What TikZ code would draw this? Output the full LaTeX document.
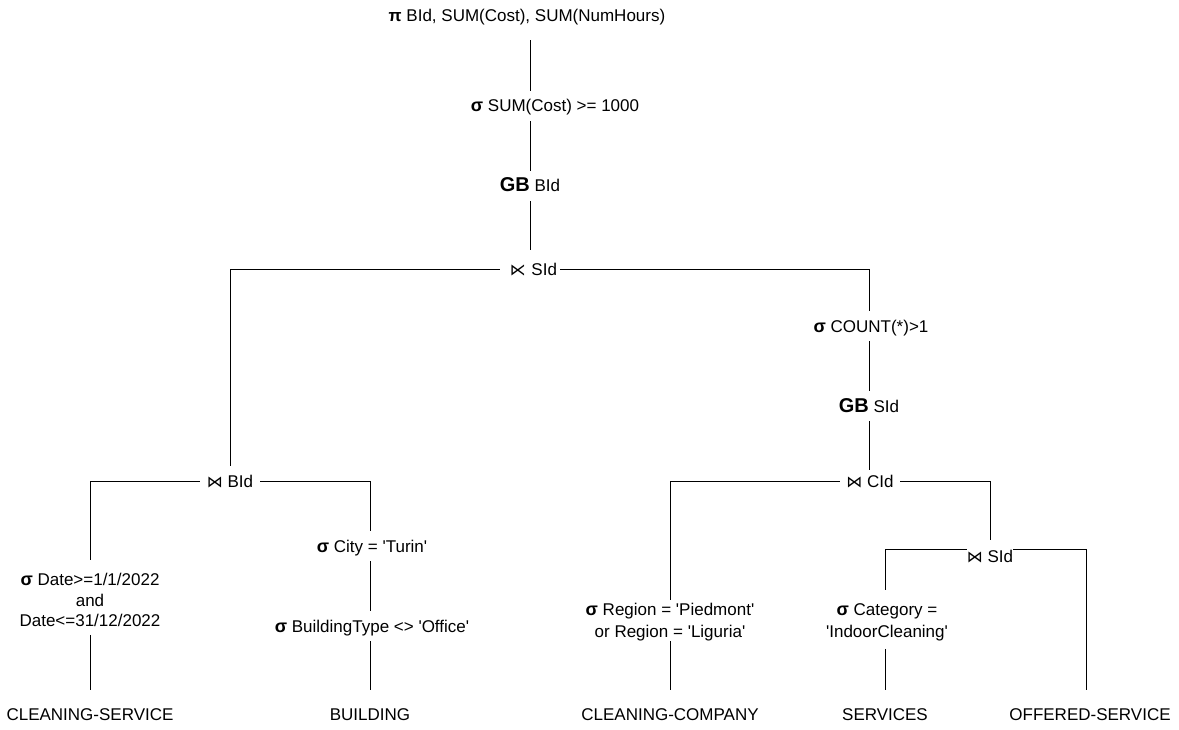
\documentclass[tikz,border=0pt]{standalone}
\usepackage{fontspec}
\setmainfont{Liberation Sans}[Ligatures=TeXOff]
\newfontfamily\symf{DejaVu Sans}
\newcommand\sig{{\fontsize{18}{20}\selectfont\bfseries σ}}
\newcommand\gbf{{\fontsize{20}{24}\selectfont\bfseries GB}}
\newcommand\bowt{{\symf\fontsize{16}{18}\selectfont ⋈}}
\newcommand\semij{{\symf\fontsize{16}{18}\selectfont ⋉}}
\begin{document}
\begin{tikzpicture}[x=1pt,y=-1pt,
  lbl/.style={font=\fontsize{17}{21}\selectfont, text height=14pt, text depth=2pt, inner xsep=4pt, inner ysep=7pt},
  mlA/.style={font=\fontsize{17}{20.5}\selectfont, align=center, inner sep=0pt, anchor=north},
  mlB/.style={font=\fontsize{17}{22}\selectfont, align=center, inner sep=0pt, anchor=north},
  leaf/.style={font=\fontsize{17}{21}\selectfont, text height=14pt, text depth=2pt, inner sep=0pt, minimum height=48pt},
  jn/.style={lbl, minimum width=60pt, inner xsep=0pt},
  conn/.style={draw=black, line width=1pt}]
\useasboundingbox (0,0) rectangle (1179,730);
% labels
\node[lbl] (pi) at (527,16) {\textbf{π} BId, SUM(Cost), SUM(NumHours)};
\node[lbl] (s1) at (555,106) {\sig\ SUM(Cost) >= 1000};
\node[lbl] (gb1) at (530,186) {\gbf\ BId};
\node[lbl, text width=54pt, align=right, inner xsep=3pt, minimum height=40pt] (sj) at (530,270) {\semij\ SId};
\node[lbl] (cnt) at (871,326) {\sig\ COUNT(*)>1};
\node[lbl] (gb2) at (869,406) {\gbf\ SId};
\node[jn] (jc) at (870,481) {\bowt\ CId};
\node[jn] (jb) at (230,481) {\bowt\ BId};
\node[font=\fontsize{17}{21}\selectfont, text height=12pt, text depth=4pt, inner sep=0pt, anchor=base] (js) at (990,562) {\bowt\ SId};
\node[mlA] (sdate) at (90,573) {\sig\ Date>=1/1/2022\\and\\Date<=31/12/2022};
\node[lbl] (scity) at (372,546) {\sig\ City = 'Turin'};
\node[lbl] (sbt) at (372,626) {\sig\ BuildingType <> 'Office'};
\node[mlB] (sreg) at (670,603) {\sig\ Region = 'Piedmont'\\or Region = 'Liguria'};
\node[mlB] (scat) at (887,603) {\sig\ Category =\\'IndoorCleaning'};
% leaves
\node[leaf] (lcs) at (90,714) {CLEANING-SERVICE};
\node[leaf] (lb) at (370,714) {BUILDING};
\node[leaf] (lcc) at (670,714) {CLEANING-COMPANY};
\node[leaf] (ls) at (885,714) {SERVICES};
\node[leaf] (los) at (1090,714) {OFFERED-SERVICE};
% connectors
\draw[conn, shorten <=9pt] (gb1.north |- pi.south) -- (gb1.north |- s1.north);
\draw[conn] (gb1.north |- s1.south) -- (gb1.north);
\draw[conn] (gb1.south) -- (gb1.south |- sj.north);
\draw[conn] (sj.west) -| (jb.north);
\draw[conn] (sj.east) -| (gb2.north |- cnt.north);
\draw[conn] (gb2.north |- cnt.south) -- (gb2.north);
\draw[conn, shorten >=-4pt] (gb2.south) -- (gb2.south |- jc.north);
\draw[conn, shorten >=13pt] (jb.west) -| (lcs.north |- sdate.north);
\draw[conn, shorten <=8pt] (lcs.north |- sdate.south) -- (lcs.north);
\draw[conn] (jb.east) -| (lb.north |- scity.north);
\draw[conn] (lb.north |- scity.south) -- (lb.north |- sbt.north);
\draw[conn] (lb.north |- sbt.south) -- (lb.north);
\draw[conn, shorten >=3pt] (jc.west) -| (lcc.north |- sreg.north);
\draw[conn] (lcc.north |- sreg.south) -- (lcc.north);
\draw[conn, shorten >=10pt] (jc.east) -| (js.north);
\draw[conn, shorten >=13pt] (js.north west) -| (ls.north |- scat.north);
\draw[conn, shorten <=8pt] (ls.north |- scat.south) -- (ls.north);
\draw[conn] (js.north east) -| ([xshift=-4pt]los.north);
\end{tikzpicture}
\end{document}
